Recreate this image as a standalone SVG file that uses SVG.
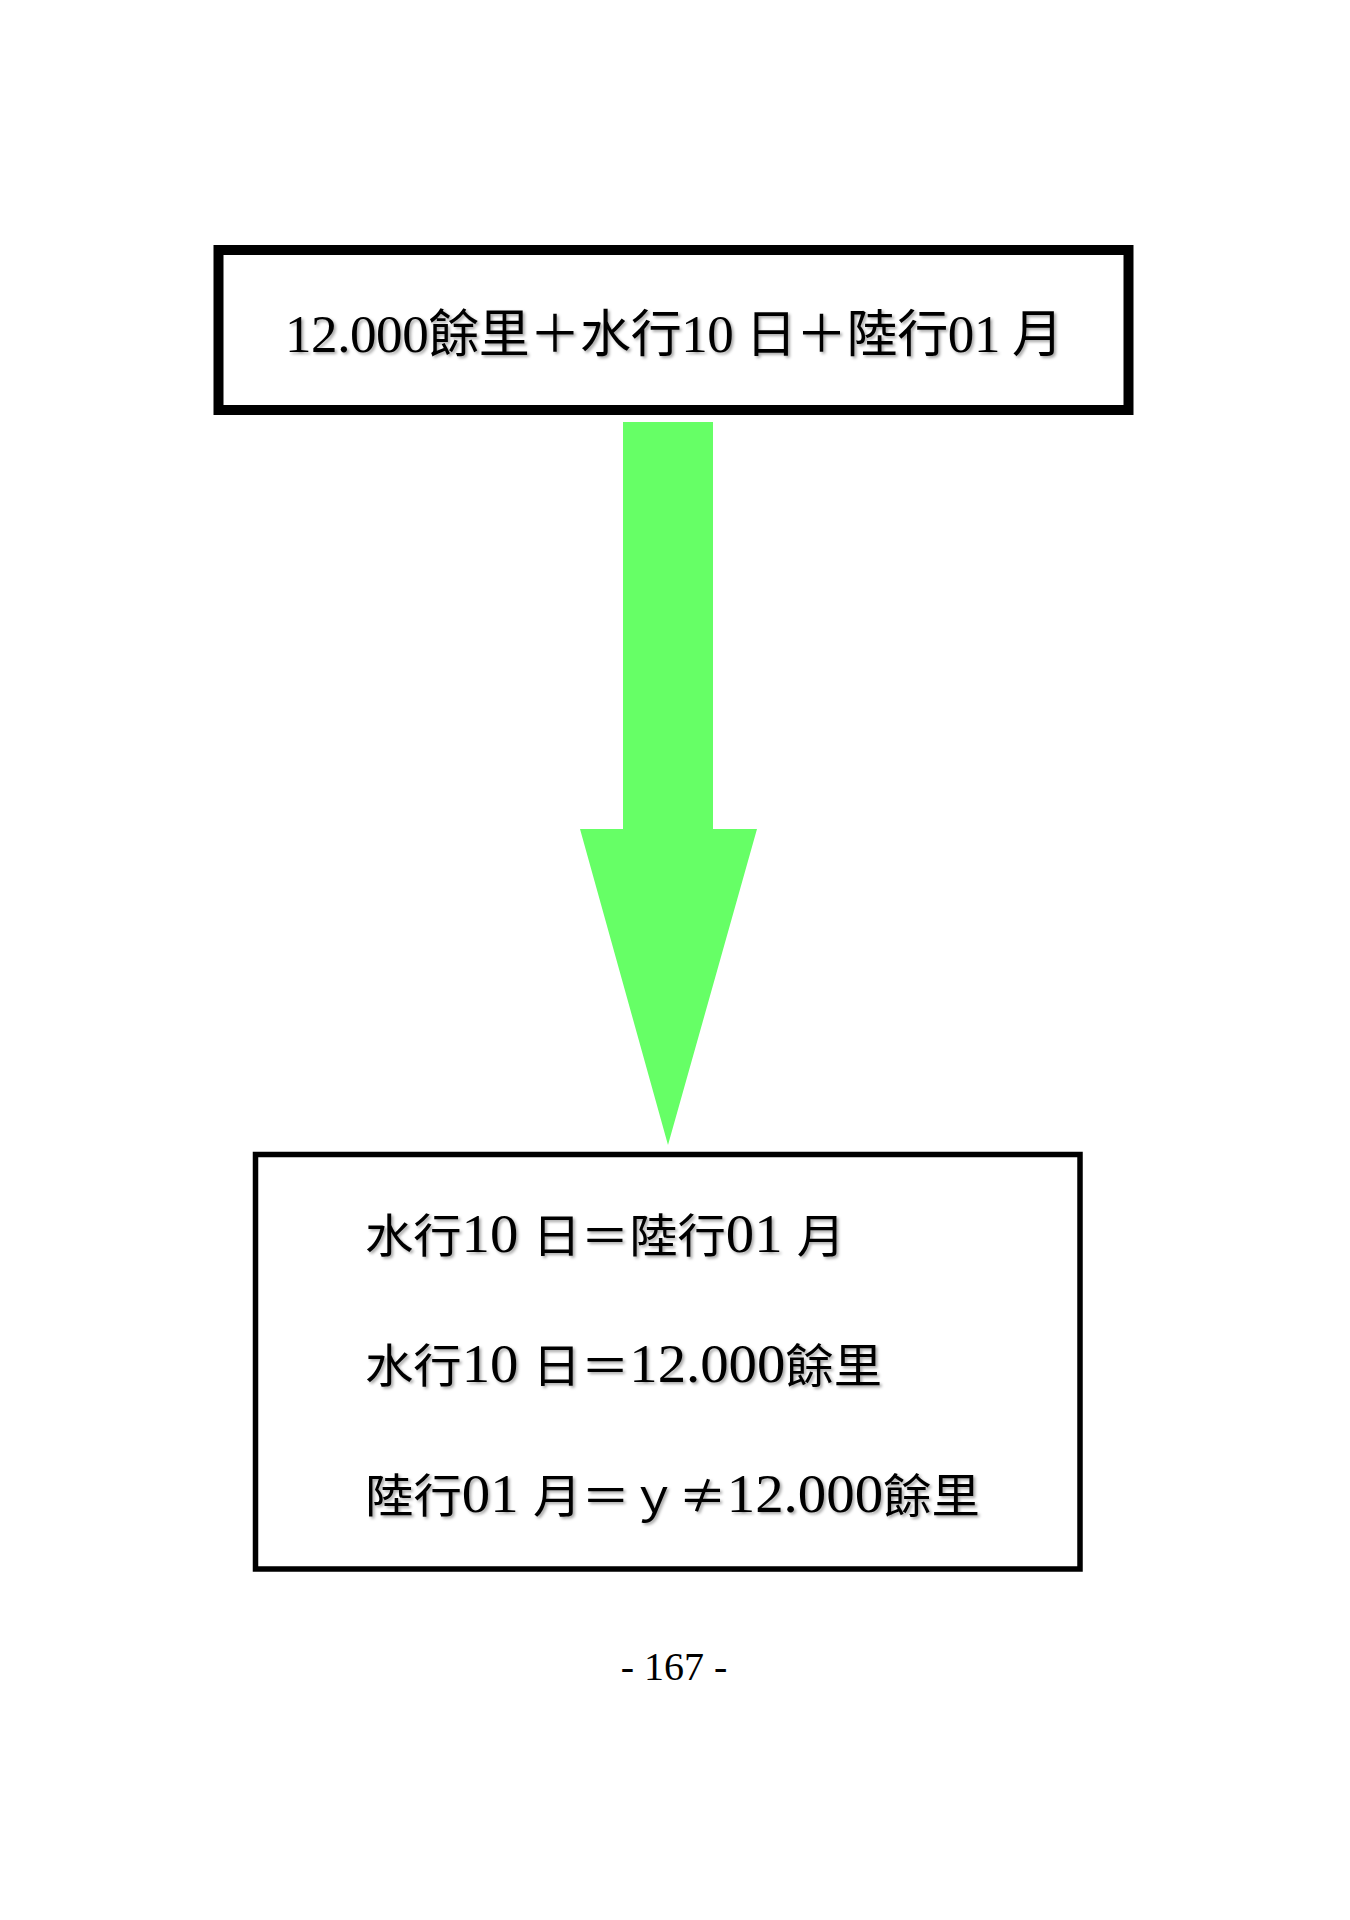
<svg xmlns="http://www.w3.org/2000/svg" width="1350" height="1920" viewBox="0 0 1350 1920">
  <style>
    .box { fill: #ffffff; stroke: #000000; }
    .t { font-family: "Noto Sans CJK TC", "Noto Sans CJK JP", sans-serif; fill: #000000; }
    .d { font-family: "Liberation Serif", "Noto Sans CJK TC", serif; }
    .page { font-family: "Liberation Serif", serif; font-size: 40px; fill: #000000; }
  </style>
  <defs>
    <filter id="shadow" x="-5%" y="-20%" width="110%" height="140%">
      <feDropShadow dx="2" dy="2" stdDeviation="1.5" flood-color="#000000" flood-opacity="0.35"/>
    </filter>
  </defs>
  <rect width="1350" height="1920" fill="#ffffff"/>

  <g id="node-top">
    <rect class="box" x="218.5" y="250" width="910" height="160" stroke-width="10"/>
    <text class="t" x="285" y="352" font-size="51" filter="url(#shadow)" textLength="778" lengthAdjust="spacing"><tspan class="d" font-size="53">12.000</tspan>餘里＋水行<tspan class="d" font-size="53">10</tspan><tspan dx="12">日＋陸行</tspan><tspan class="d" font-size="53">01</tspan><tspan dx="12">月</tspan></text>
  </g>

  <g id="connectors">
    <polygon id="arrow" points="623,422 713,422 713,829 757,829 668,1145 580,829 623,829" fill="#66FF66"/>
  </g>

  <g id="node-bottom">
    <rect class="box" x="255.5" y="1154.5" width="824.5" height="414.5" stroke-width="5.5"/>
    <text class="t" x="365" y="1252" font-size="46" filter="url(#shadow)" textLength="480" lengthAdjust="spacingAndGlyphs">水行<tspan class="d" font-size="54">10 </tspan>日＝陸行<tspan class="d" font-size="54">01 </tspan>月</text>
    <text class="t" x="365" y="1382" font-size="46" filter="url(#shadow)" textLength="517" lengthAdjust="spacingAndGlyphs">水行<tspan class="d" font-size="54">10 </tspan>日＝<tspan class="d" font-size="54">12.000</tspan>餘里</text>
    <text class="t" x="365" y="1512" font-size="46" filter="url(#shadow)" textLength="615" lengthAdjust="spacingAndGlyphs">陸行<tspan class="d" font-size="54">01 </tspan>月＝ｙ≠<tspan class="d" font-size="54">12.000</tspan>餘里</text>
  </g>

  <text class="page" x="674" y="1680" text-anchor="middle">- 167 -</text>
</svg>
